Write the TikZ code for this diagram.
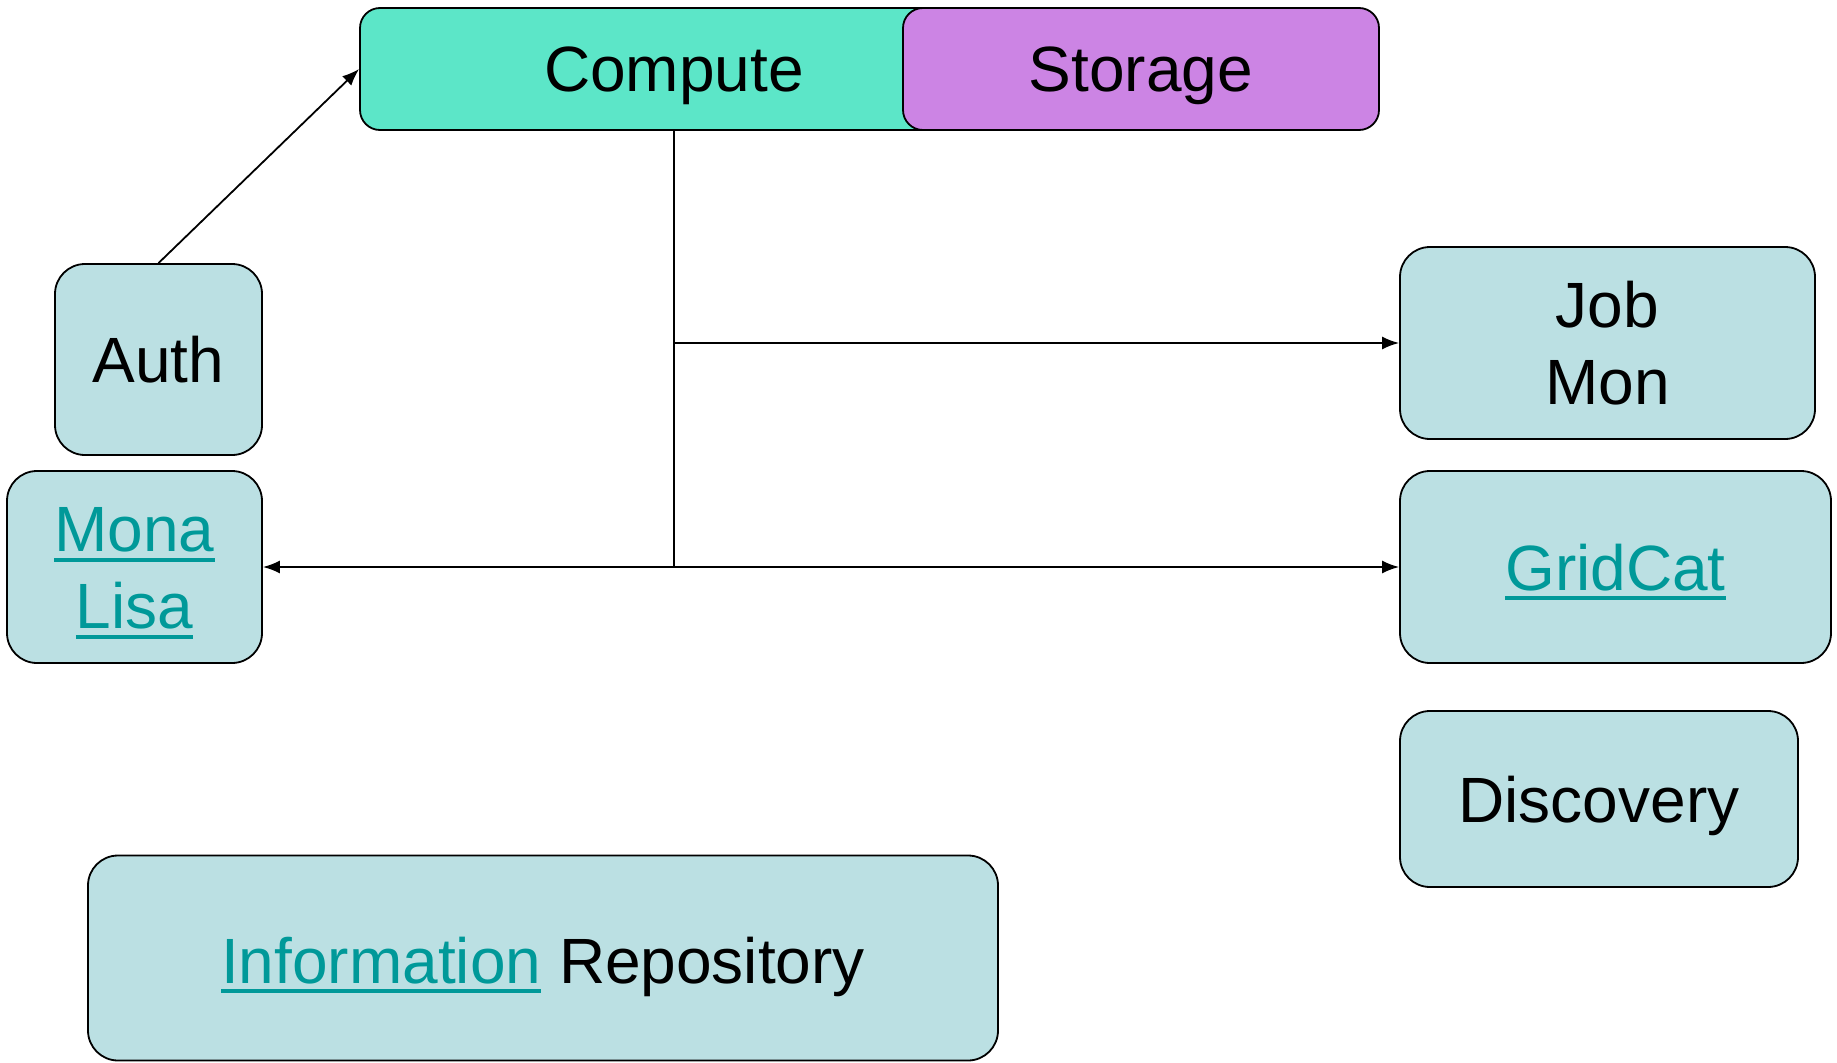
\documentclass[tikz,border=0pt]{standalone}
\usepackage{fontspec}
\setmainfont{Liberation Sans}
\usetikzlibrary{arrows.meta,calc}
\definecolor{boxfill}{RGB}{187,224,227}
\definecolor{compfill}{RGB}{92,230,200}
\definecolor{storfill}{RGB}{204,132,228}
\definecolor{linkcol}{RGB}{0,153,153}
\newsavebox{\lnkbox}
\newcommand{\mylink}[1]{\sbox{\lnkbox}{\color{linkcol}#1}\makebox[0pt][l]{\color{linkcol}\rule[-10pt]{\wd\lnkbox}{4pt}}\usebox{\lnkbox}}
\tikzset{
  x=1pt, y=-1pt,
  box/.style={draw=black, line width=1.8pt, fill=boxfill, rounded corners=30pt, inner sep=0pt, anchor=center},
  topbox/.style={draw=black, line width=1.8pt, rounded corners=20pt, inner sep=0pt, anchor=center},
  lbl/.style={font=\fontsize{64}{77}\selectfont, align=center, inner sep=0pt, anchor=center, yshift=-8pt},
  conn/.style={draw=black, line width=1.8pt},
  arr/.style={conn, -{Latex[length=17pt,width=13pt]}}
}
\begin{document}
\begin{tikzpicture}
\useasboundingbox (0,0) rectangle (1837,1063);
% top boxes
\node[topbox, fill=compfill, minimum width=612pt, minimum height=122pt] (Compute) at (666,69) {};
\node[topbox, fill=storfill, minimum width=476pt, minimum height=122pt] (Storage) at (1141,69) {};
\node[lbl] (ComputeT) at (674,68) {\strut Compute};
\node[lbl] (StorageT) at (1141,68) {\strut Storage};
% left boxes
\node[box, minimum width=207pt, minimum height=191pt] (Auth) at (158.5,359.5) {};
\node[lbl] (AuthT) at (Auth.center) {\strut Auth};
\node[box, minimum width=255pt, minimum height=192pt] (Mona) at (134.5,567) {};
\node[lbl] (MonaT) at (Mona.center) {\strut\mylink{Mona}\\\strut\mylink{Lisa}};
% right boxes
\node[box, minimum width=415pt, minimum height=192pt] (Job) at (1607.5,343) {};
\node[lbl] (JobT) at (Job.center) {\strut Job\\\strut Mon};
\node[box, minimum width=431pt, minimum height=192pt] (Grid) at (1615.5,567) {};
\node[lbl] (GridT) at (Grid.center) {\strut\mylink{GridCat}};
\node[box, minimum width=398pt, minimum height=176pt] (Disc) at (1599,799) {};
\node[lbl] (DiscT) at (Disc.center) {\strut Discovery};
% bottom box
\node[box, minimum width=910pt, minimum height=205pt] (Info) at (543,958) {};
\node[lbl] (InfoT) at (543,960) {\strut\mylink{Information} Repository};
% connectors
\coordinate (j1) at (674,343);
\coordinate (j2) at (674,567);
\draw[arr] (Auth.north) -- (Compute.west);
\draw[conn] (j1 |- Compute.south) -- (j2);
\draw[arr] (j1) -- (Job.west);
\draw[arr] (j2) -- (Mona.east);
\draw[arr] (j2) -- (Grid.west);
\end{tikzpicture}
\end{document}
